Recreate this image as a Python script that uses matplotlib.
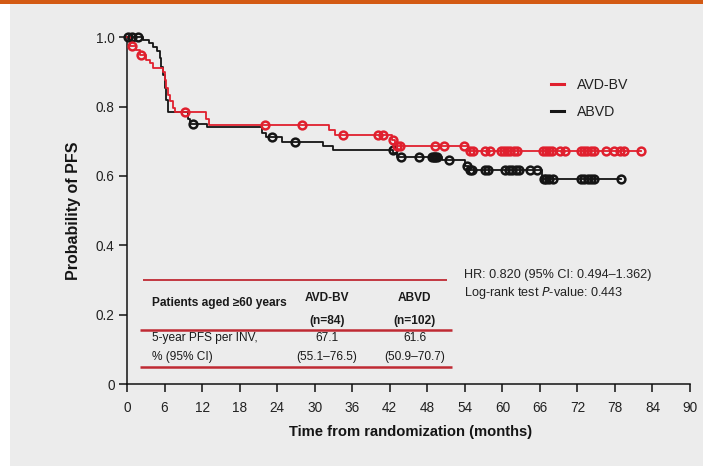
import numpy as np
import matplotlib
matplotlib.use("Agg")
import matplotlib.pyplot as plt
from matplotlib.patches import Rectangle
from matplotlib.lines import Line2D

plt.rcParams['font.family'] = ['Liberation Sans', 'DejaVu Sans']

# Kaplan-Meier steps: time of drop (months) and survival after the drop
avdbv_t = [0, 0.5, 1.5, 2.0, 3.1, 3.7, 4.2, 5.8, 6.1, 6.3, 6.6, 6.9, 7.3, 7.7,
           12.7, 13.1, 32.3, 33.2, 42.3, 42.9, 54.5]
avdbv_s = [1.0, 0.976, 0.963, 0.949, 0.935, 0.925, 0.912, 0.900, 0.877, 0.853,
           0.834, 0.815, 0.797, 0.785, 0.765, 0.746, 0.732, 0.718, 0.703, 0.687, 0.672]
avdbv_cens = [0.8, 2.3, 9.3, 22.1, 27.9, 34.5, 40.2, 40.9, 42.5, 43.1, 43.6, 49.2,
              50.6, 53.8, 54.8, 55.3, 57.2, 58.0, 59.8, 60.3, 60.8, 61.3, 61.8, 62.3,
              66.5, 67.0, 67.5, 68.0, 69.2, 70.0, 72.6, 73.1, 73.6, 74.1, 74.7, 76.6,
              77.9, 78.8, 79.4, 82.2]

abvd_t = [0, 2.6, 3.5, 4.2, 4.8, 5.2, 5.4, 5.7, 6.0, 6.2, 6.6, 9.8, 10.1, 12.8,
          21.6, 22.3, 24.8, 31.3, 33.0, 42.6, 43.2, 50.4, 54.0, 54.6, 66.4]
abvd_s = [1.0, 0.992, 0.983, 0.973, 0.960, 0.939, 0.915, 0.891, 0.853, 0.819, 0.784,
          0.765, 0.751, 0.742, 0.725, 0.712, 0.697, 0.687, 0.676, 0.665, 0.654,
          0.645, 0.630, 0.617, 0.590]
abvd_cens = [0.2, 0.8, 1.8, 10.5, 23.2, 26.8, 42.5, 43.8, 46.7, 48.7, 49.0, 49.3,
             49.6, 51.5, 54.4, 54.8, 55.1, 57.3, 57.7, 60.4, 61.0, 61.6, 62.2, 62.6,
             64.4, 65.6, 66.6, 67.0, 67.5, 68.1, 72.6, 73.1, 73.7, 74.2, 74.6, 79.0]

arm_names = ["AVD-BV", "ABVD"]
arm_n = ["(n=84)", "(n=102)"]
pfs5 = ["67.1", "61.6"]
pfs5_ci = ["(55.1–76.5)", "(50.9–70.7)"]
hr_text = "HR: 0.820 (95% CI: 0.494–1.362)"
logrank_p = "0.443"

xticks = list(range(0, 91, 6))
yticks = [0, 0.2, 0.4, 0.6, 0.8, 1.0]
ytick_labels = ["0", "0.2", "0.4", "0.6", "0.8", "1.0"]

RED = "#e0202e"
BLACK = "#151515"
TABLE_RED = "#bf2a33"

fig = plt.figure(figsize=(7.03, 4.67), dpi=100)
fig.patch.set_facecolor("white")
fig.patches.append(Rectangle((10 / 703, 1 / 467), 1, 462 / 467, transform=fig.transFigure,
                             facecolor="#ececec", edgecolor="none", zorder=-10))
fig.patches.append(Rectangle((0, 1 - 4 / 467), 1, 4 / 467, transform=fig.transFigure,
                             facecolor="#d35a14", edgecolor="none", zorder=-9))

ax = fig.add_axes([127 / 703, 1 - 384 / 467, 563 / 703, 346.7 / 467])
ax.set_facecolor("none")


def km_curve(ax, t, s, cens, color):
    t = np.asarray(t, float)
    s = np.asarray(s, float)
    end = max(cens[-1], t[-1])
    tt = np.r_[t, end]
    ss = np.r_[s, s[-1]]
    ax.step(tt, ss, where="post", color=color, lw=1.3, clip_on=False, zorder=3)
    c = np.asarray(cens, float)
    cy = s[np.searchsorted(t, c, side="right") - 1]
    ax.plot(c, cy, ls="none", marker="o", ms=5.6, mfc="none", mec=color, mew=1.8,
            clip_on=False, zorder=4)


km_curve(ax, abvd_t, abvd_s, abvd_cens, BLACK)
km_curve(ax, avdbv_t, avdbv_s, avdbv_cens, RED)

ax.set_xlim(0, 90)
ax.set_ylim(0, 1.0)
ax.set_xticks(xticks)
ax.set_yticks(yticks)
ax.set_yticklabels(ytick_labels)
ax.spines["top"].set_visible(False)
ax.spines["right"].set_visible(False)
for sp in ("left", "bottom"):
    ax.spines[sp].set_linewidth(1.1)
    ax.spines[sp].set_color("#111111")
ax.tick_params(axis="both", direction="out", length=6, width=1.1, color="#111111",
               labelsize=9.8, labelcolor="#222222")
ax.tick_params(axis="x", pad=6)
ax.tick_params(axis="y", pad=3)

ax.set_xlabel("Time from randomization (months)", fontsize=10.6, fontweight="bold",
              color="#151515")
ax.xaxis.set_label_coords(0.503, -0.118)
ax.set_ylabel("Probability of PFS", fontsize=11.5, fontweight="bold", color="#151515")
ax.yaxis.set_label_coords(-0.082, 0.5)

# legend with short line handles
handles = [Line2D([], [], color=RED, lw=2.2), Line2D([], [], color=BLACK, lw=2.2)]
fig.legend(handles, arm_names, loc="upper left", bbox_to_anchor=(551 / 703, 1 - 78 / 467),
           frameon=False, handlelength=0.9, handletextpad=0.9, labelspacing=0.95,
           fontsize=10.2, borderpad=0, borderaxespad=0, labelcolor="#222222")

# summary table
ax.hlines(0.300, 2.6, 51.1, color=TABLE_RED, lw=1.3, zorder=2)
ax.hlines([0.156, 0.050], 2.1, 51.9, color=TABLE_RED, lw=1.8, zorder=2)
tkw = dict(fontsize=8.6, color="#1a1a1a", va="center")
ax.text(4.0, 0.234, "Patients aged ≥60 years", fontweight="bold", ha="left", **tkw)
ax.text(4.0, 0.132, "5-year PFS per INV,", ha="left", **tkw)
ax.text(4.0, 0.079, "% (95% CI)", ha="left", **tkw)
for xc, name, n, v, ci in zip([32.0, 46.0], arm_names, arm_n, pfs5, pfs5_ci):
    ax.text(xc, 0.249, name, fontweight="bold", ha="center", **tkw)
    ax.text(xc, 0.183, n, fontweight="bold", ha="center", **tkw)
    ax.text(xc, 0.132, v, ha="center", **tkw)
    ax.text(xc, 0.079, ci, ha="center", **tkw)

ax.text(53.8, 0.314, hr_text, fontsize=9.1, color="#222222", ha="left", va="center")
ax.text(53.8, 0.262, "Log-rank test $\\mathit{P}$-value: " + logrank_p, fontsize=9.1,
        color="#222222", ha="left", va="center")

fig.savefig("out.png", dpi=100)
